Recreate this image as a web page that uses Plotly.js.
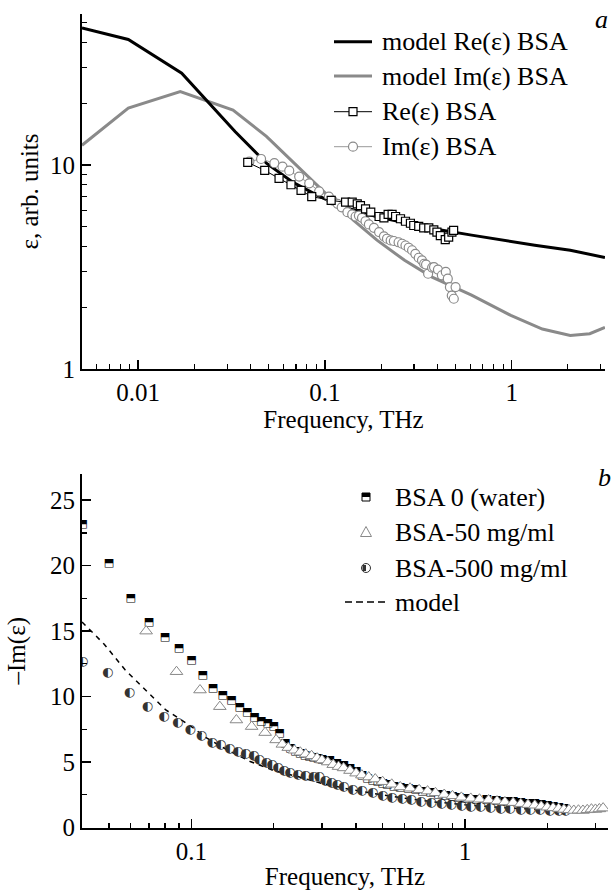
<!DOCTYPE html>
<html><head><meta charset="utf-8">
<script src="https://cdn.plot.ly/plotly-3.0.1.min.js"></script>
<style>
html,body{margin:0;padding:0;background:#fff}
#chart svg text{font-family:"Liberation Serif","Times New Roman",Tinos,serif !important;}
#chart svg .textpoint text{font-family:"DejaVu Sans",sans-serif !important;}
</style>
</head><body><div id="chart" style="width:616px;height:893px"></div>
<script>
// ---------- Panel a ----------
const modelReFreq = [0.005, 0.00885, 0.0171, 0.0234, 0.033, 0.0486, 0.0667, 0.087, 0.117, 0.19, 0.375, 0.61, 0.99, 1.33, 2.06, 3.16];
const modelReVal  = [47, 41.2, 28.2, 20.5, 14.6, 10.2, 8.28, 7.26, 6.36, 5.57, 4.88, 4.53, 4.2, 4.04, 3.82, 3.52];
const modelImFreq = [0.005, 0.00885, 0.0168, 0.0322, 0.0486, 0.0716, 0.1007, 0.142, 0.19, 0.267, 0.375, 0.61, 0.99, 1.46, 2.06, 2.62, 3.16];
const modelImVal  = [12.5, 19.0, 22.9, 18.6, 13.8, 9.81, 7.26, 5.37, 4.28, 3.41, 2.82, 2.3, 1.83, 1.57, 1.46, 1.49, 1.6];
const reDataFreq = [0.0386,0.0476,0.0568,0.0658,0.0745,0.085,0.108,0.129,0.140,0.149,0.155,0.165,0.176,0.195,0.207,0.218,0.229,0.239,0.254,0.270,0.287,0.299,0.318,0.338,0.360,0.383,0.398,0.415,0.441,0.46,0.479,0.489];
const reDataVal  = [10.3,9.4,8.6,8.0,7.5,7.0,6.7,6.57,6.57,6.45,6.32,6.09,5.87,5.59,5.51,5.72,5.72,5.59,5.45,5.30,5.18,5.05,5.0,4.92,4.92,4.81,4.69,4.51,4.31,4.43,4.69,4.78];
const imDataFreq = [0.0394,0.0455,0.0536,0.0593,0.0644,0.0728,0.0824,0.0931,0.105,0.110,0.117,0.123,0.132,0.140,0.146,0.152,0.158,0.165,0.172,0.183,0.195,0.207,0.215,0.225,0.234,0.248,0.259,0.270,0.281,0.293,0.305,0.318,0.331,0.340,0.348,0.357,0.375,0.384,0.403,0.423,0.444,0.455,0.467,0.478,0.49,0.501];
const imDataVal  = [10.4,10.7,10.2,9.81,9.38,8.77,8.13,7.43,7.0,6.69,6.45,6.2,5.87,5.72,5.59,5.65,5.51,5.30,5.11,4.92,4.69,4.47,4.35,4.27,4.24,4.18,4.11,4.03,3.93,3.82,3.67,3.51,3.41,3.28,3.25,2.93,3.14,3.16,3.07,2.88,2.99,2.77,2.52,2.29,2.21,2.52];
const xTicksA = [0.01, 0.1, 1];
const xTickTextA = ['0.01', '0.1', '1'];
const xMinorA = [0.006,0.007,0.008,0.009,0.02,0.03,0.04,0.05,0.06,0.07,0.08,0.09,0.2,0.3,0.4,0.5,0.6,0.7,0.8,0.9,2,3];
const yTicksA = [1, 10];
const yTickTextA = ['1', '10'];
const yMinorA = [2,3,4,5,6,7,8,9,20,30,40,50];
const legendA = ['model Re(ε) BSA', 'model Im(ε) BSA', 'Re(ε) BSA', 'Im(ε) BSA'];

// ---------- Panel b ----------
const waterFreq = [0.04,0.05,0.06,0.07,0.08,0.09,0.10,0.11,0.12,0.13,0.14,0.15,0.16,0.17,0.18,0.19,0.20,0.21,0.22,0.23,0.24,0.25,0.26,0.27,0.28,0.29,0.30,0.32,0.34,0.36,0.38,0.40,0.42,0.44,0.46,0.48,0.50,0.52,0.55,0.58,0.62,0.66,0.70,0.75,0.80,0.85,0.90,0.95,1.0,1.1,1.2,1.3,1.4,1.5,1.6,1.7,1.8,1.9,2.0,2.1,2.2,2.3];
const waterVal  = [23.2,20.2,17.5,15.7,14.5,13.7,12.8,11.6,10.6,10.1,9.7,9.2,8.8,8.4,8.1,7.95,7.7,7.2,6.4,6.05,5.85,5.7,5.55,5.45,5.35,5.3,5.25,5.1,4.9,4.75,4.5,4.3,4.0,3.8,3.6,3.5,3.4,3.3,3.15,3.05,3.0,2.9,2.8,2.7,2.55,2.45,2.38,2.3,2.25,2.17,2.12,2.08,2.02,1.98,1.93,1.88,1.82,1.77,1.72,1.65,1.58,1.45];
const bsa50Freq = [0.0683,0.0882,0.1075,0.127,0.146,0.166,0.186,0.204,0.215,0.226,0.238,0.25,0.262,0.275,0.288,0.30,0.315,0.33,0.345,0.36,0.38,0.40,0.42,0.445,0.47,0.50,0.54,0.58,0.63,0.68,0.73,0.78,0.84,0.90,0.97,1.05,1.13,1.22,1.31,1.4,1.5,1.6,1.7,1.8,1.9,2.0,2.1,2.2,2.3,2.4,2.5,2.6,2.7,2.8,2.9,3.0,3.1,3.2];
const bsa50Val  = [15.0,11.9,10.5,9.23,8.21,7.71,7.25,6.69,6.35,6.1,5.9,5.75,5.6,5.48,5.3,5.15,5.0,4.8,4.65,4.55,4.35,4.15,4.0,3.85,3.7,3.5,3.3,3.1,3.0,2.88,2.78,2.65,2.52,2.42,2.3,2.22,2.16,2.1,2.02,1.95,1.9,1.82,1.75,1.7,1.62,1.55,1.5,1.45,1.38,1.35,1.3,1.32,1.3,1.35,1.4,1.38,1.42,1.48];
const bsa500Freq = [0.04,0.0494,0.0593,0.069,0.0793,0.0891,0.099,0.1087,0.119,0.128,0.138,0.148,0.158,0.169,0.177,0.188,0.197,0.207,0.218,0.229,0.245,0.261,0.279,0.293,0.308,0.325,0.341,0.36,0.389,0.42,0.46,0.50,0.541,0.59,0.636,0.69,0.753,0.82,0.89,0.97,1.05,1.14,1.24,1.35,1.46,1.6,1.73,1.88,2.04,2.2,2.33];
const bsa500Val  = [12.67,11.83,10.3,9.23,8.47,8.01,7.45,6.99,6.49,6.31,6.05,5.8,5.67,5.47,5.21,4.96,4.78,4.53,4.35,4.15,4.02,3.94,3.89,3.84,3.59,3.42,3.26,3.1,2.92,2.77,2.62,2.45,2.31,2.2,2.11,2.0,1.91,1.82,1.73,1.66,1.6,1.56,1.53,1.47,1.42,1.38,1.35,1.32,1.3,1.3,1.3];
const modelBFreq = [0.0398,0.048,0.0573,0.0683,0.0806,0.1,0.114,0.135,0.164,0.2,0.245,0.298,0.389,0.541,0.753,1.0,1.46,2.25,3.0];
const modelBVal  = [15.7,14.0,12.03,10.45,8.98,7.71,6.82,5.93,5.04,4.35,3.89,3.38,2.87,2.37,1.98,1.73,1.48,1.3,1.2];
const xTicksB = [0.1, 1];
const xTickTextB = ['0.1', '1'];
const xMinorB = [0.05,0.06,0.07,0.08,0.09,0.2,0.3,0.4,0.5,0.6,0.7,0.8,0.9,2,3];
const yTicksB = [0,5,10,15,20,25];
const yMinorB = [2.5,7.5,12.5,17.5,22.5];
const legendB = ['BSA 0 (water)', 'BSA-50 mg/ml', 'BSA-500 mg/ml', 'model'];

const SERIF = 'Liberation Serif';
const W = 616, H = 893;
const px = x => x / W, py = y => 1 - y / H;
const GRAY = '#8a8a8a';

const traces = [
  {x: modelImFreq, y: modelImVal, xaxis:'x', yaxis:'y', mode:'lines', line:{color:GRAY, width:3}},
  {x: modelReFreq, y: modelReVal, xaxis:'x', yaxis:'y', mode:'lines', line:{color:'#000', width:3}},
  {x: imDataFreq, y: imDataVal, xaxis:'x', yaxis:'y', mode:'lines+markers', line:{color:'#999', width:1},
   marker:{symbol:'circle', size:9, color:'#fff', line:{color:GRAY, width:1.2}}},
  {x: reDataFreq, y: reDataVal, xaxis:'x', yaxis:'y', mode:'lines+markers', line:{color:'#000', width:1},
   marker:{symbol:'square', size:8, color:'#fff', line:{color:'#000', width:1.2}}},
  {x: modelBFreq, y: modelBVal, xaxis:'x2', yaxis:'y2', mode:'lines', line:{color:'#000', width:1.5, dash:'5px,5px'}},
  {x: bsa500Freq, y: bsa500Val, xaxis:'x2', yaxis:'y2', mode:'text', text: bsa500Freq.map(()=> '◐'),
   textposition:'middle center', textfont:{family:'DejaVu Sans', size:13, color:'#333'}},
  {x: waterFreq, y: waterVal, xaxis:'x2', yaxis:'y2', mode:'text', text: waterFreq.map(()=> '⬒'),
   textposition:'middle center', textfont:{family:'DejaVu Sans', size:11, color:'#000'}},
  {x: bsa50Freq, y: bsa50Val, xaxis:'x2', yaxis:'y2', mode:'markers',
   marker:{symbol:'triangle-up', size:11, color:'#fff', line:{color:'#888', width:1}}}
];

function axisBase(extra){
  return Object.assign({
    showline:true, linecolor:'#000', linewidth:2, showgrid:false, zeroline:false,
    ticks:'inside', ticklen:9, tickwidth:1.5, tickcolor:'#000',
    tickfont:{family:SERIF, size:25, color:'#000'},
  }, extra);
}
const minorBase = vals => ({tickvals: vals, ticks:'inside', ticklen:5, tickwidth:1.2, tickcolor:'#000', showgrid:false});

const annotations = [];
const shapes = [];
const P = (x, y) => `${px(x)},${py(y)}`;
const rowsA = [41.7, 76, 111.7, 146.7];
legendA.forEach((t, i) => {
  annotations.push({xref:'paper', yref:'paper', x:px(380), y:py(rowsA[i]), xanchor:'left', yanchor:'middle',
    text:t, showarrow:false, font:{family:SERIF, size:26, color:'#000'}});
});
const lineA = (y, color, w) => shapes.push({type:'line', xref:'paper', yref:'paper', x0:px(334), x1:px(372), y0:py(y), y1:py(y), line:{color, width:w}});
lineA(rowsA[0], '#000', 3); lineA(rowsA[1], GRAY, 3); lineA(rowsA[2], '#000', 1); lineA(rowsA[3], '#999', 1);
shapes.push({type:'rect', xref:'paper', yref:'paper', x0:px(349), x1:px(357), y0:py(rowsA[2]-4), y1:py(rowsA[2]+4), line:{color:'#000', width:1.2}, fillcolor:'#fff'});
shapes.push({type:'circle', xref:'paper', yref:'paper', x0:px(348.5), x1:px(357.5), y0:py(rowsA[3]-4.5), y1:py(rowsA[3]+4.5), line:{color:GRAY, width:1.2}, fillcolor:'#fff'});
const rowsB = [497, 532, 568, 602];
legendB.forEach((t, i) => {
  annotations.push({xref:'paper', yref:'paper', x:px(393), y:py(rowsB[i]), xanchor:'left', yanchor:'middle',
    text:t, showarrow:false, font:{family:SERIF, size:26, color:'#000'}});
});
const cx = 366;
shapes.push({type:'rect', xref:'paper', yref:'paper', x0:px(cx-4), x1:px(cx+4), y0:py(rowsB[0]-4), y1:py(rowsB[0]+4), line:{color:'#000', width:1}, fillcolor:'#fff'});
shapes.push({type:'rect', xref:'paper', yref:'paper', x0:px(cx-4), x1:px(cx+4), y0:py(rowsB[0]-4), y1:py(rowsB[0]), line:{width:0}, fillcolor:'#000'});
shapes.push({type:'path', xref:'paper', yref:'paper',
  path:`M${P(cx-5.5, rowsB[1]+4.5)} L${P(cx+5.5, rowsB[1]+4.5)} L${P(cx, rowsB[1]-5.5)} Z`, line:{color:'#888', width:1}, fillcolor:'#fff'});
shapes.push({type:'circle', xref:'paper', yref:'paper', x0:px(cx-4.5), x1:px(cx+4.5), y0:py(rowsB[2]-4.5), y1:py(rowsB[2]+4.5), line:{color:'#333', width:1}, fillcolor:'#fff'});
shapes.push({type:'rect', xref:'paper', yref:'paper', x0:px(cx-3.5), x1:px(cx), y0:py(rowsB[2]-3), y1:py(rowsB[2]+3), line:{width:0}, fillcolor:'#333'});
shapes.push({type:'line', xref:'paper', yref:'paper', x0:px(345), x1:px(389), y0:py(rowsB[3]), y1:py(rowsB[3]), line:{color:'#000', width:1.5, dash:'7px,4px'}});
annotations.push({xref:'paper', yref:'paper', x:px(601), y:py(20), xanchor:'center', yanchor:'middle', text:'<i>a</i>', showarrow:false, font:{family:SERIF, size:26, color:'#000'}});
annotations.push({xref:'paper', yref:'paper', x:px(604), y:py(477), xanchor:'center', yanchor:'middle', text:'<i>b</i>', showarrow:false, font:{family:SERIF, size:26, color:'#000'}});

const layout = {
  width:W, height:H, margin:{l:0, r:0, t:0, b:0}, paper_bgcolor:'#fff', plot_bgcolor:'rgba(0,0,0,0)',
  showlegend:false,
  font:{family:SERIF},
  xaxis: axisBase({type:'log', domain:[px(82), px(605)], range:[-2.301, 0.5], anchor:'y',
    tickvals:xTicksA, ticktext:xTickTextA, minor:minorBase(xMinorA),
    title:{text:'Frequency, THz', font:{family:SERIF, size:25, color:'#000'}, standoff:1}}),
  yaxis: axisBase({type:'log', domain:[py(369), py(14)], range:[0, 1.74], anchor:'x',
    tickvals:yTicksA, ticktext:yTickTextA, minor:minorBase(yMinorA),
    title:{text:'ε, arb. units', font:{family:SERIF, size:25, color:'#000'}, standoff:4}}),
  xaxis2: axisBase({type:'log', domain:[px(82), px(608)], range:[-1.40, 0.523], anchor:'y2',
    tickvals:xTicksB, ticktext:xTickTextB, minor:minorBase(xMinorB),
    title:{text:'Frequency, THz', font:{family:SERIF, size:25, color:'#000'}, standoff:4}}),
  yaxis2: axisBase({domain:[py(827.5), py(474)], range:[0, 27], anchor:'x2',
    tickvals:yTicksB, minor:minorBase(yMinorB),
    title:{text:'–Im(ε)', font:{family:SERIF, size:25, color:'#000'}, standoff:17}}),
  annotations, shapes
};
Plotly.newPlot('chart', traces, layout, {staticPlot:true, displayModeBar:false});
</script></body></html>
